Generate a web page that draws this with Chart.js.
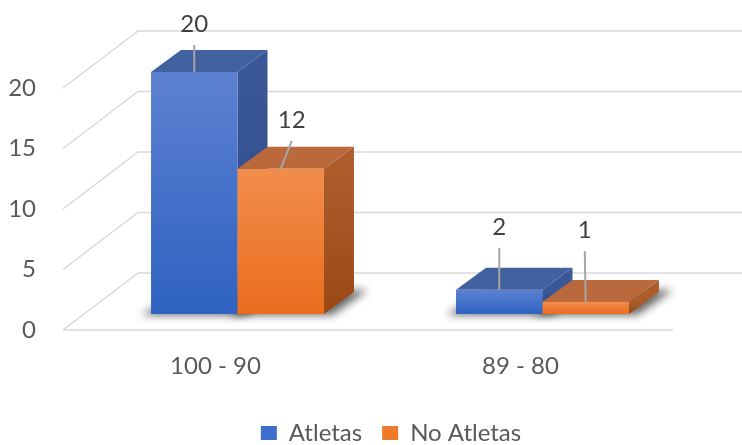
<!DOCTYPE html>
<html lang="es">
<head>
<meta charset="UTF-8">
<title>Atletas / No Atletas</title>
<script src="https://cdn.jsdelivr.net/npm/chart.js@4.4.1/dist/chart.umd.min.js"></script>
<style>
    html, body { margin: 0; padding: 0; background: #fff; }
    .chart-box { position: relative; width: 742px; height: 445px; }
</style>
</head>
<body>
<div class="chart-box"><canvas id="chart"></canvas></div>
<script>
    // --- data ---
    const categories = ['100 - 90', '89 - 80'];
    const atletas = [20, 2];
    const noAtletas = [12, 1];
    const yTicks = [0, 5, 10, 15, 20];

    // --- 3D look (pixels) ---
    const faceShift = { dx: 22, dy: -16 };  // floor front edge -> bar front face
    const depth = { dx: 30, dy: -22 };      // bar thickness
    const wallShift = { dx: 75, dy: -57 };  // floor front edge -> back wall
    // leader lines for the value labels, [dataset][category]
    const leaders = [
        [{ dx: 0, len: 27 }, { dx: 0, len: 42 }],
        [{ dx: 11, len: 28 }, { dx: -1, len: 51 }]
    ];

    const palette = [
        { legend: '#3f6fce', frontTop: '#5d81d1', frontBottom: '#2e62c1', top: '#42619f', sideTop: '#3a5797', sideBottom: '#2b4887' },
        { legend: '#ef7a2c', frontTop: '#f28d4d', frontBottom: '#e96d1d', top: '#b9693c', sideTop: '#ad5d2c', sideBottom: '#9a4915' }
    ];

    function poly(ctx, pts) {
        ctx.beginPath();
        ctx.moveTo(pts[0][0], pts[0][1]);
        for (let i = 1; i < pts.length; i++) ctx.lineTo(pts[i][0], pts[i][1]);
        ctx.closePath();
    }

    function boxOf(bar) {
        const x0 = bar.x - bar.width / 2 + faceShift.dx;
        const x1 = x0 + bar.width;
        const yt = bar.y + faceShift.dy;
        const yb = bar.base + faceShift.dy;
        return { x0, x1, yt, yb };
    }

    const bars3d = {
        id: 'bars3d',
        beforeDatasetsDraw(chart) {
            const { ctx, chartArea: area, scales: { y } } = chart;
            ctx.save();

            // side wall + back wall grid
            ctx.strokeStyle = '#d9d9d9';
            ctx.lineWidth = 1.5;
            yTicks.forEach(v => {
                const py = y.getPixelForValue(v);
                ctx.beginPath();
                ctx.moveTo(area.left, py);
                ctx.lineTo(area.left + wallShift.dx, py + wallShift.dy);
                ctx.lineTo(area.right + wallShift.dx, py + wallShift.dy);
                ctx.stroke();
            });
            const y0 = y.getPixelForValue(0);
            ctx.beginPath();
            ctx.moveTo(area.left, y0);
            ctx.lineTo(area.right, y0);
            ctx.stroke();

            const metas = chart.data.datasets.map((ds, di) => chart.getDatasetMeta(di));

            // floor shadows
            ctx.filter = 'blur(4px)';
            ctx.fillStyle = 'rgba(0,0,0,0.6)';
            metas.forEach(meta => meta.data.forEach(bar => {
                const b = boxOf(bar);
                poly(ctx, [[b.x0 - 10, b.yb + 1], [b.x1 + 8, b.yb + 1], [b.x1 + depth.dx + 14, b.yb + depth.dy - 2], [b.x0 + depth.dx, b.yb + depth.dy]]);
                ctx.fill();
            }));
            ctx.filter = 'none';

            // boxes, category by category, series left to right
            categories.forEach((c, ci) => {
                metas.forEach((meta, di) => {
                    const bar = meta.data[ci];
                    const col = palette[di];
                    const b = boxOf(bar);
                    const tx = depth.dx, ty = depth.dy;

                    let g = ctx.createLinearGradient(0, b.yt, 0, b.yb);
                    g.addColorStop(0, col.sideTop);
                    g.addColorStop(1, col.sideBottom);
                    ctx.fillStyle = g;
                    poly(ctx, [[b.x1, b.yb], [b.x1, b.yt], [b.x1 + tx, b.yt + ty], [b.x1 + tx, b.yb + ty]]);
                    ctx.fill();

                    ctx.fillStyle = col.top;
                    poly(ctx, [[b.x0, b.yt], [b.x1, b.yt], [b.x1 + tx, b.yt + ty], [b.x0 + tx, b.yt + ty]]);
                    ctx.fill();

                    g = ctx.createLinearGradient(0, b.yt, 0, b.yb);
                    g.addColorStop(0, col.frontTop);
                    g.addColorStop(1, col.frontBottom);
                    ctx.fillStyle = g;
                    ctx.fillRect(b.x0, b.yt, b.x1 - b.x0, b.yb - b.yt);
                });
            });

            // value labels with leader lines
            ctx.font = '24px Lato';
            ctx.fillStyle = '#404040';
            ctx.textAlign = 'center';
            ctx.textBaseline = 'alphabetic';
            metas.forEach((meta, di) => meta.data.forEach((bar, ci) => {
                const b = boxOf(bar);
                const l = leaders[di][ci];
                const cx = (b.x0 + b.x1) / 2;
                const ex = cx + l.dx, ey = b.yt - l.len;
                ctx.strokeStyle = '#a6a6a6';
                ctx.lineWidth = 2;
                ctx.beginPath();
                ctx.moveTo(cx, b.yt);
                ctx.lineTo(ex, ey);
                ctx.stroke();
                ctx.fillText(String(chart.data.datasets[di].data[ci]), ex, ey - 13);
            }));

            ctx.restore();
            return false;
        }
    };

    new Chart(document.getElementById('chart'), {
        type: 'bar',
        data: {
            labels: categories,
            datasets: [
                { label: 'Atletas', data: atletas, backgroundColor: palette[0].legend },
                { label: 'No Atletas', data: noAtletas, backgroundColor: palette[1].legend }
            ]
        },
        options: {
            responsive: true,
            maintainAspectRatio: false,
            animation: false,
            categoryPercentage: 0.567,
            barPercentage: 1,
            // negative right/bottom padding: lets the legend sit centred where the original has it
            layout: { padding: { top: 88, left: 0, right: -40, bottom: -10 } },
            scales: {
                x: {
                    grid: { display: false },
                    border: { display: false },
                    ticks: { color: '#595959', font: { family: 'Lato', size: 24 }, padding: 14 },
                    afterFit(s) { s.height = 71; }
                },
                y: {
                    min: 0, max: 20,
                    afterBuildTicks(s) { s.ticks = yTicks.map(v => ({ value: v })); },
                    grid: { display: false },
                    border: { display: false },
                    ticks: { color: '#595959', font: { family: 'Lato', size: 24 }, padding: 19 },
                    afterFit(s) { s.width = 63; }
                },
                yRight: {
                    position: 'right',
                    grid: { display: false },
                    border: { display: false },
                    ticks: { display: false },
                    afterFit(s) { s.width = 109; }
                }
            },
            plugins: {
                legend: {
                    position: 'bottom',
                    labels: { color: '#595959', font: { family: 'Lato', size: 24 }, boxWidth: 16, boxHeight: 14, padding: 20 }
                },
                tooltip: { enabled: false }
            }
        },
        plugins: [bars3d]
    });
</script>
</body>
</html>
